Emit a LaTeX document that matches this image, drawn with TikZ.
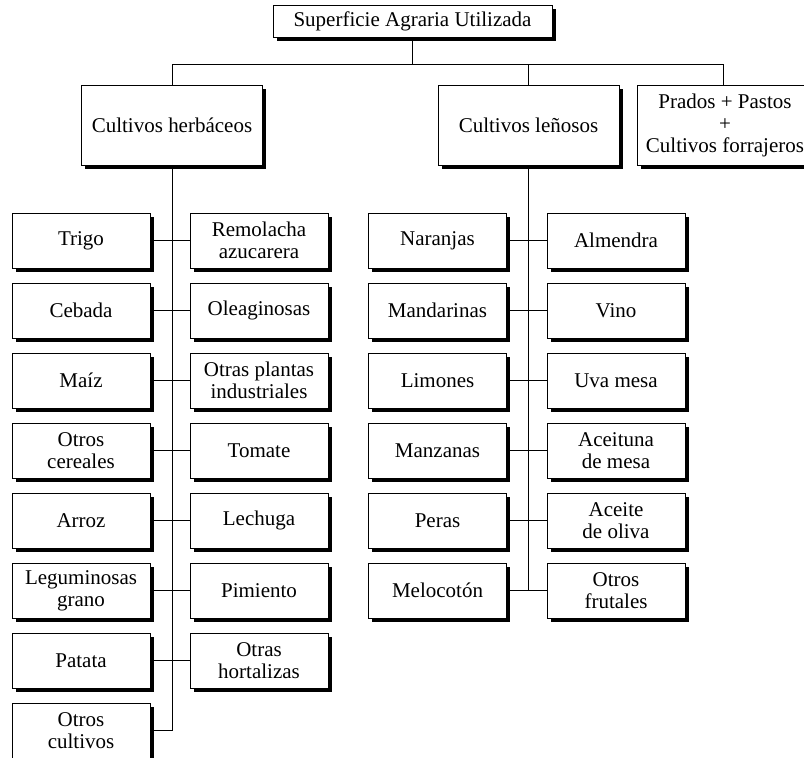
\documentclass[tikz,border=0pt]{standalone}
\usepackage{fontspec}
\setmainfont{Liberation Serif}
\usetikzlibrary{shadows}
\begin{document}
\begin{tikzpicture}[x=1pt,y=-1pt,
  box/.style={draw, line width=0.8pt, fill=white, inner sep=0pt, align=center,
    font=\fontsize{21}{22}\selectfont,
    drop shadow={shadow xshift=3.5pt, shadow yshift=-3.5pt, fill=black, opacity=1}},
  leaf/.style={box, minimum width=138pt, minimum height=55pt},
  conn/.style={line width=0.8pt}]
\useasboundingbox (0,0) rectangle (804,758);
% top levels
\node[box, minimum width=279pt, minimum height=32pt] (sau) at (412.5,21) {Superficie Agraria Utilizada};
\node[box, minimum width=181pt, minimum height=80pt] (herb) at (172,125) {Cultivos herbáceos};
\node[box, minimum width=181pt, minimum height=80pt] (len) at (528.5,125) {Cultivos leñosos};
\node[box, minimum width=176pt, minimum height=80pt] (prad) at (725,125) {Prados + Pastos\\+\\Cultivos forrajeros};
% herbaceous left column
\node[leaf] (h1) at (81,240.5) {Trigo};
\node[leaf] (h2) at (81,310.5) {Cebada};
\node[leaf] (h3) at (81,380.5) {Maíz};
\node[leaf] (h4) at (81,450.5) {Otros\\cereales};
\node[leaf] (h5) at (81,520.5) {Arroz};
\node[leaf] (h6) at (81,590.5) {Leguminosas\\grano};
\node[leaf] (h7) at (81,660.5) {Patata};
\node[leaf] (h8) at (81,730.5) {Otros\\cultivos};
% herbaceous right column
\node[leaf] (r1) at (259,240.5) {Remolacha\\azucarera};
\node[leaf] (r2) at (259,310.5) {Oleaginosas};
\node[leaf] (r3) at (259,380.5) {Otras plantas\\industriales};
\node[leaf] (r4) at (259,450.5) {Tomate};
\node[leaf] (r5) at (259,520.5) {Lechuga};
\node[leaf] (r6) at (259,590.5) {Pimiento};
\node[leaf] (r7) at (259,660.5) {Otras\\hortalizas};
% woody left column
\node[leaf] (l1) at (437.5,240.5) {Naranjas};
\node[leaf] (l2) at (437.5,310.5) {Mandarinas};
\node[leaf] (l3) at (437.5,380.5) {Limones};
\node[leaf] (l4) at (437.5,450.5) {Manzanas};
\node[leaf] (l5) at (437.5,520.5) {Peras};
\node[leaf] (l6) at (437.5,590.5) {Melocotón};
% woody right column
\node[leaf] (w1) at (616,240.5) {Almendra};
\node[leaf] (w2) at (616,310.5) {Vino};
\node[leaf] (w3) at (616,380.5) {Uva mesa};
\node[leaf] (w4) at (616,450.5) {Aceituna\\de mesa};
\node[leaf] (w5) at (616,520.5) {Aceite\\de oliva};
\node[leaf] (w6) at (616,590.5) {Otros\\frutales};
% connectors top
\coordinate (j) at (412.5,64);
\coordinate (hl) at (172,64);
\coordinate (pr) at (723,64);
\draw[conn] (sau.south) -- (j);
\draw[conn] (herb.north) -- (hl) -- (pr) -- (pr |- prad.north);
\draw[conn] (len.north) -- (len.north |- j);
% trunks
\draw[conn] (herb.south) -- (herb.south |- h8.east) -- (h8.east);
\draw[conn] (len.south) -- (len.south |- l6.east);
% row connectors
\foreach \i in {1,...,7} {\draw[conn] (h\i.east) -- (r\i.west);}
\foreach \i in {1,...,6} {\draw[conn] (l\i.east) -- (w\i.west);}
\end{tikzpicture}
\end{document}
